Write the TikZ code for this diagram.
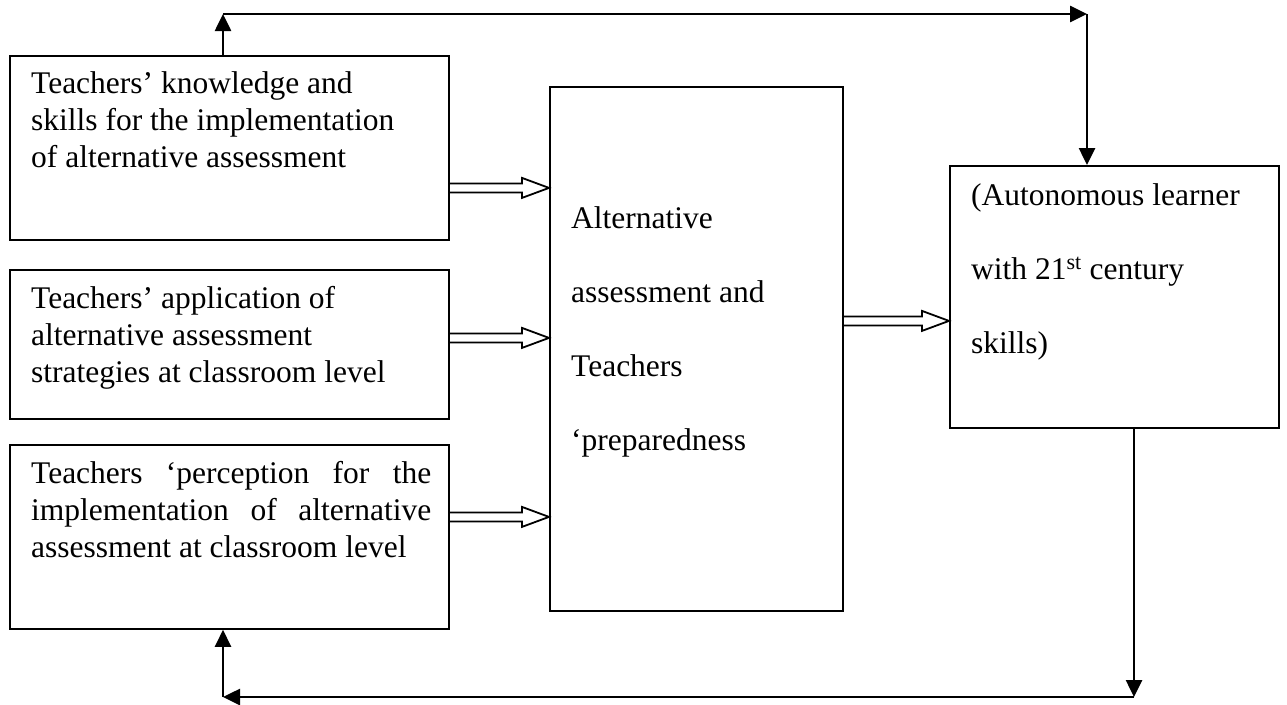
\documentclass[tikz,border=0pt]{standalone}
\usepackage{fontspec}
\setmainfont{Liberation Serif}
\usetikzlibrary{arrows.meta,calc}
\begin{document}
\begin{tikzpicture}[x=1pt,y=-1pt,
  box/.style={draw, line width=1.8pt, inner sep=0pt, anchor=north west},
  txt/.style={inner sep=0pt, anchor=base west, align=left, font=\fontsize{31.5}{37}\selectfont},
  txtwide/.style={inner sep=0pt, anchor=base west, align=left, font=\fontsize{31.5}{74}\selectfont},
  conn/.style={line width=2.6pt, -{Triangle[length=17pt,width=16pt]}},
  blockarrow/.style={line width=1.8pt, line join=miter, to path={let \p1=(\tikztostart), \p2=(\tikztotarget) in
    (\x1,\y1+4.5pt) -- (\x2-27pt,\y1+4.5pt) -- (\x2-27pt,\y1+10pt) -- (\x2,\y1) -- (\x2-27pt,\y1-10pt) -- (\x2-27pt,\y1-4.5pt) -- (\x1,\y1-4.5pt)}}]
\useasboundingbox (0,0) rectangle (1287,704);

% boxes
\node[box, minimum width=439pt, minimum height=184pt] (b1) at (9,55) {};
\node[box, minimum width=439pt, minimum height=149pt] (b2) at (9,269) {};
\node[box, minimum width=439pt, minimum height=184pt] (b3) at (9,444) {};
\node[box, minimum width=293pt, minimum height=524pt] (c) at (549,86) {};
\node[box, minimum width=329pt, minimum height=262pt] (r) at (949,165) {};

% texts (anchored at the baseline of their last line)
\node[txt] (t1) at ([shift={(22pt,-112pt)}]b1.north west)
  {Teachers’ knowledge and\\skills for the implementation\\of alternative assessment};
\node[txt] (t2) at ([shift={(22pt,-113pt)}]b2.north west)
  {Teachers’ application of\\alternative assessment\\strategies at classroom level};
\node[txt] (t3) at ([shift={(22pt,-113pt)}]b3.north west)
  {\makebox[400pt][s]{Teachers ‘perception for the}\\\makebox[400pt][s]{implementation of alternative}\\assessment at classroom level};
\node[txtwide] (tc) at ([shift={(22pt,-364pt)}]c.north west)
  {Alternative\\assessment and\\Teachers\\‘preparedness};
\node[txtwide] (tr) at ([shift={(22pt,-188pt)}]r.north west)
  {(Autonomous learner\\with 21\textsuperscript{st} century\\skills)};

% block arrows
\draw[blockarrow] ([yshift=-40pt]b1.east) to (c.west);
\draw[blockarrow] ([yshift=6.5pt]b2.east) to (c.west);
\draw[blockarrow] ([yshift=20pt]b3.east) to (c.west);
\draw[blockarrow] ([yshift=28pt]c.east) to (r.west);

% feedback connectors
\coordinate (topL) at (223,14);
\coordinate (topR) at (1087,14);
\coordinate (botR) at (1134,697);
\coordinate (botL) at (223,697);
\draw[conn] (b1.north -| topL) -- (topL);
\draw[conn] (topL) -- (topR);
\draw[conn] (topR) -- (topR |- r.north);
\draw[conn] (r.south -| botR) -- (botR);
\draw[conn] (botR) -- (botL);
\draw[conn] (botL) -- (botL |- b3.south);
\end{tikzpicture}
\end{document}
